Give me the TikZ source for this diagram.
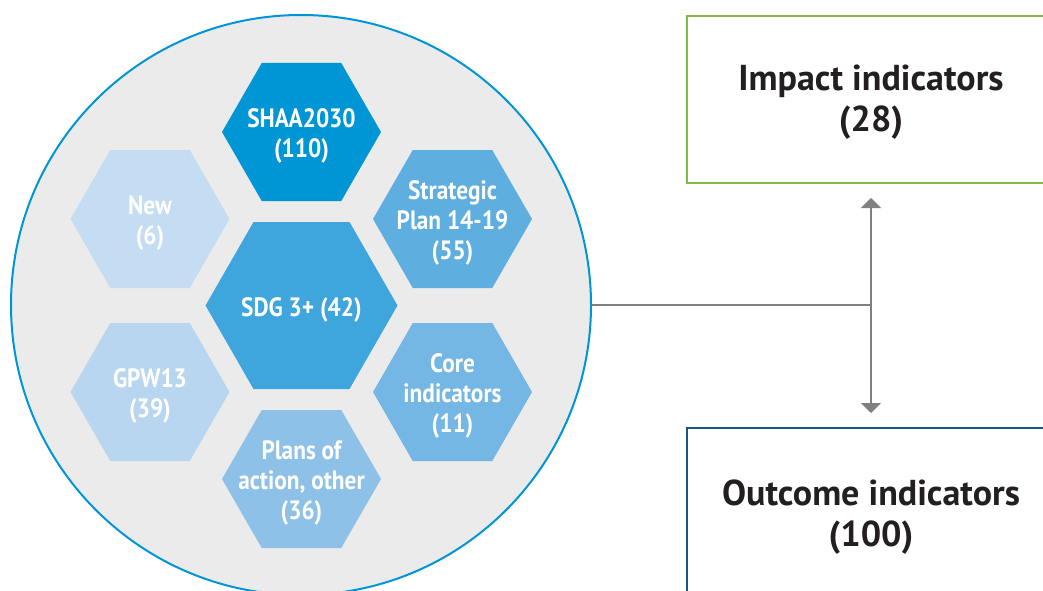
\documentclass[tikz,border=0pt]{standalone}
\usepackage{fontspec}
\setmainfont{PT Sans}
\newfontfamily\hexfont{PT Sans}[FakeStretch=0.88]
\usetikzlibrary{arrows.meta}
\definecolor{circfill}{HTML}{EBEBEB}
\definecolor{circline}{HTML}{0095D6}
\definecolor{hA}{HTML}{0096D6}
\definecolor{hB}{HTML}{3FA5DD}
\definecolor{hC}{HTML}{5EAEE0}
\definecolor{hD}{HTML}{74B6E4}
\definecolor{hE}{HTML}{8EC1E8}
\definecolor{hF}{HTML}{B8D6F0}
\definecolor{hG}{HTML}{C4DDF2}
\definecolor{impactc}{HTML}{7DBD45}
\definecolor{outcomec}{HTML}{1A5583}
\definecolor{connc}{HTML}{808080}
\definecolor{txt}{HTML}{231F20}
\newcommand{\hexashape}[5]{%
  \fill[#5,shift={(#1,#2)}] (-#3,0) -- (-#3/2,-#4) -- (#3/2,-#4) -- (#3,0) -- (#3/2,#4) -- (-#3/2,#4) -- cycle;}
\begin{document}
\begin{tikzpicture}[x=1pt,y=-1pt,
  hextext/.style={text=white,font=\hexfont\fontsize{26.5}{30}\selectfont\bfseries,align=center,inner sep=0pt,yshift=-4pt},
  boxtext/.style={text=txt,font=\fontsize{36}{41}\selectfont\bfseries,align=center,yshift=-3pt},
  indbox/.style={line width=2pt,minimum width=368pt,inner sep=0pt},
  connline/.style={draw=connc,line width=2pt},
  arrowline/.style={connline,-{Triangle[width=20pt,length=10pt]},shorten >=14pt}]
\useasboundingbox (0,0) rectangle (1043,591);
\node[circle,fill=circfill,draw=circline,line width=2pt,minimum size=580pt,inner sep=0pt] (circ) at (301,305) {};
% hexagons
\hexashape{301.5}{132}{79.5}{69}{hA}
\hexashape{301.5}{305.5}{96}{83.5}{hB}
\hexashape{452.5}{219}{79.5}{69}{hC}
\hexashape{452.5}{392}{79.5}{69}{hD}
\hexashape{301.5}{479}{79.5}{69}{hE}
\hexashape{150}{392}{79.5}{69}{hF}
\hexashape{150}{219}{79.5}{69}{hG}
\node[hextext] (shaa) at (301.5,132) {SHAA2030\\(110)};
\node[hextext] (sdg) at (301.5,305.5) {SDG 3+ (42)};
\node[hextext] (strat) at (452.5,219) {Strategic\\Plan 14-19\\(55)};
\node[hextext] (core) at (452.5,392) {Core\\indicators\\(11)};
\node[hextext] (plans) at (301.5,479) {Plans of\\action, other\\(36)};
\node[hextext] (gpw) at (150,392) {GPW13\\(39)};
\node[hextext] (new) at (150,219) {New\\(6)};
% boxes
\node[indbox,draw=impactc,minimum height=167pt] (impact) at (871,99.5) {};
\node[boxtext] (impacttext) at (impact.center) {Impact indicators\\(28)};
\node[indbox,draw=outcomec,minimum height=172pt] (outcome) at (871,514) {};
\node[boxtext] (outcometext) at (outcome.center) {Outcome indicators\\(100)};
% connectors
\coordinate (j) at (impact.south |- circ.east);
\draw[connline] (circ.east) -- (j);
\draw[arrowline] (j) -- (impact.south);
\draw[arrowline] (j) -- (outcome.north);
\end{tikzpicture}
\end{document}
